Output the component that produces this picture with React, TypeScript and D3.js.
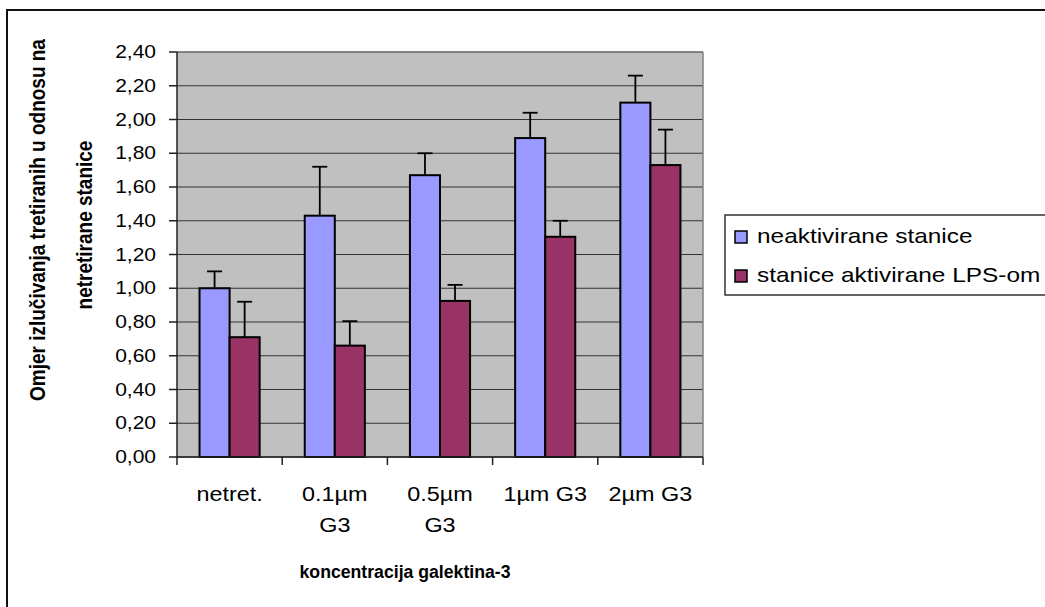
import React from "react";
import * as d3 from "d3";

const categories = ["netret.", "0.1µm G3", "0.5µm G3", "1µm G3", "2µm G3"];
const categoryLines = [["netret."], ["0.1µm", "G3"], ["0.5µm", "G3"], ["1µm G3"], ["2µm G3"]];
const seriesNames = ["neaktivirane stanice", "stanice aktivirane LPS-om"];
const neaktivirane = [1.0, 1.43, 1.67, 1.89, 2.1];
const neaktiviraneErr = [0.1, 0.29, 0.13, 0.15, 0.16];
const aktivirane = [0.71, 0.66, 0.925, 1.305, 1.73];
const aktiviraneErr = [0.21, 0.145, 0.095, 0.095, 0.21];
const yTicks = [0, 0.2, 0.4, 0.6, 0.8, 1.0, 1.2, 1.4, 1.6, 1.8, 2.0, 2.2, 2.4];
const colors = ["#9999FF", "#993366"];

const W = 1045;
const H = 607;
const plot = { left: 177, right: 703, top: 52, bottom: 457 };
const SX = 1.2;
const FONT = "'Liberation Sans', Arial, sans-serif";

export default function App() {
  const x = d3.scaleBand<string>().domain(categories).range([plot.left, plot.right]).padding(0);
  const bw = x.bandwidth();
  const barW = bw / 3.5;
  const inner = d3
    .scaleBand<number>()
    .domain([0, 1])
    .range([0.75 * barW, bw - 0.75 * barW])
    .padding(0);
  const y = d3.scaleLinear().domain([0, 2.4]).range([plot.bottom, plot.top]);
  const fmt = (v: number) => d3.format(".2f")(v).replace(".", ",");
  const series = [
    { vals: neaktivirane, errs: neaktiviraneErr },
    { vals: aktivirane, errs: aktiviraneErr },
  ];

  const st = (tx: number, ty: number, sx = SX) => `translate(${tx},${ty}) scale(${sx},1)`;

  return (
    <svg
      width={W}
      height={H}
      style={{ position: "absolute", left: 0, top: 0, background: "#fff" }}
      fontFamily={FONT}
    >
      <rect x={7} y={10} width={1100} height={700} fill="#fff" stroke="#111" strokeWidth={2} />
      <rect
        x={plot.left}
        y={plot.top}
        width={plot.right - plot.left}
        height={plot.bottom - plot.top}
        fill="#C0C0C0"
      />
      {yTicks.map((t) => (
        <line key={"g" + t} x1={plot.left} x2={plot.right} y1={y(t)} y2={y(t)} stroke="#333" strokeWidth={1} />
      ))}
      <line x1={plot.left} x2={plot.right} y1={plot.top} y2={plot.top} stroke="#808080" strokeWidth={1.5} />
      <line x1={plot.right} x2={plot.right} y1={plot.top} y2={plot.bottom} stroke="#808080" strokeWidth={1.5} />
      {series.map((s, si) =>
        categories.map((c, ci) => {
          const bx = (x(c) as number) + (inner(si) as number);
          const w = inner.bandwidth();
          const cx = bx + w / 2;
          return (
            <g key={si + "-" + ci}>
              <line x1={cx} x2={cx} y1={y(s.vals[ci])} y2={y(s.vals[ci] + s.errs[ci])} stroke="#000" strokeWidth={1.8} />
              <line
                x1={cx - 7.5}
                x2={cx + 7.5}
                y1={y(s.vals[ci] + s.errs[ci])}
                y2={y(s.vals[ci] + s.errs[ci])}
                stroke="#000"
                strokeWidth={1.8}
              />
              <rect
                x={bx}
                y={y(s.vals[ci])}
                width={w}
                height={plot.bottom - y(s.vals[ci])}
                fill={colors[si]}
                stroke="#000"
                strokeWidth={2}
              />
            </g>
          );
        })
      )}
      <line x1={plot.left} x2={plot.left} y1={plot.top} y2={plot.bottom} stroke="#222" strokeWidth={1.5} />
      <line x1={plot.left} x2={plot.right} y1={plot.bottom} y2={plot.bottom} stroke="#222" strokeWidth={1.5} />
      {yTicks.map((t) => (
        <g key={"t" + t}>
          <line x1={plot.left - 8} x2={plot.left} y1={y(t)} y2={y(t)} stroke="#222" strokeWidth={1.5} />
          <text transform={st(156, y(t) + 6)} textAnchor="end" fontSize={17.5} fill="#000">
            {fmt(t)}
          </text>
        </g>
      ))}
      {[...categories.map((c) => x(c) as number), plot.right].map((v, i) => (
        <line key={"xt" + i} x1={v} x2={v} y1={plot.bottom} y2={plot.bottom + 8} stroke="#222" strokeWidth={1.5} />
      ))}
      {categories.map((c, ci) =>
        categoryLines[ci].map((ln, li) => (
          <text
            key={c + li}
            transform={st((x(c) as number) + bw / 2, 501 + li * 31)}
            textAnchor="middle"
            fontSize={19.5}
            fill="#000"
          >
            {ln}
          </text>
        ))
      )}
      <text transform={st(405, 578, 0.93)} textAnchor="middle" fontSize={19} fontWeight="bold" fill="#000">
        koncentracija galektina-3
      </text>
      <g transform="translate(45,220) rotate(-90)">
        <text x={0} y={0} textAnchor="middle" fontSize={19} fontWeight="bold" fill="#000" transform={`scale(1,${SX})`}>
          Omjer izlučivanja tretiranih u odnosu na
        </text>
      </g>
      <g transform="translate(92,225) rotate(-90)">
        <text x={0} y={0} textAnchor="middle" fontSize={19} fontWeight="bold" fill="#000" transform={`scale(1,${SX})`}>
          netretirane stanice
        </text>
      </g>
      <rect x={725} y={215} width={400} height={80} fill="#fff" stroke="#333" strokeWidth={1.5} />
      {seriesNames.map((n, i) => (
        <g key={n}>
          <rect x={735} y={231 + i * 39} width={12} height={12} fill={colors[i]} stroke="#000" strokeWidth={1.5} />
          <text transform={st(757, 243 + i * 39, 1.22)} fontSize={20} fill="#000">
            {n}
          </text>
        </g>
      ))}
    </svg>
  );
}
